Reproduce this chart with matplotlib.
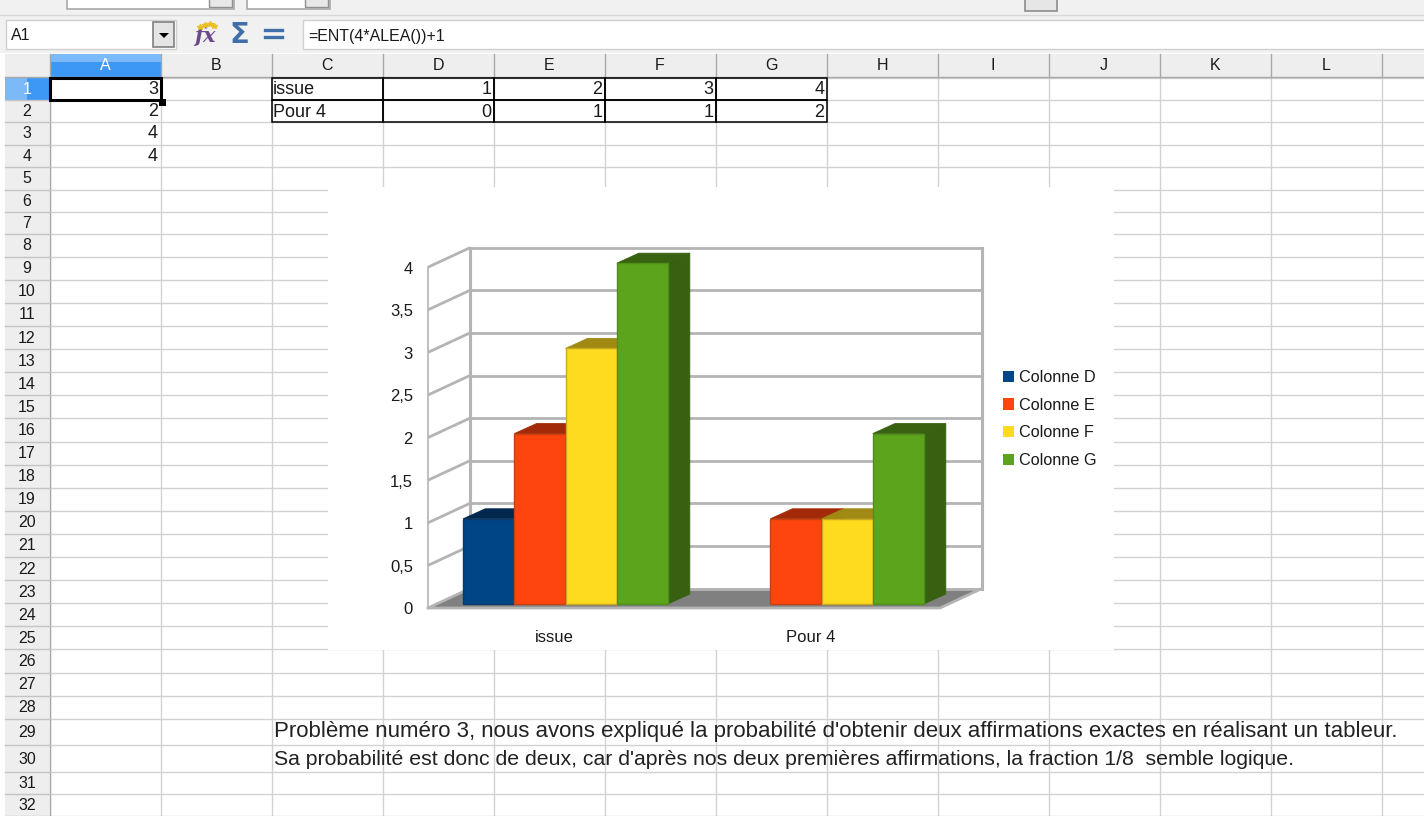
"""Spreadsheet screenshot with an embedded pseudo-3D column chart."""
import matplotlib
matplotlib.use('Agg')
import matplotlib.pyplot as plt
from matplotlib.patches import Polygon, Rectangle

plt.rcParams['font.family'] = ['Liberation Sans', 'DejaVu Sans']

# Table and chart data.
categories = ['issue', 'Pour 4']
series_names = ['Colonne D', 'Colonne E', 'Colonne F', 'Colonne G']
col_d = [1, 0]
col_e = [2, 1]
col_f = [3, 1]
col_g = [4, 2]
column_a = [3, 2, 4, 4]
y_ticks = [0, 0.5, 1, 1.5, 2, 2.5, 3, 3.5, 4]
y_labels = ['0', '0,5', '1', '1,5', '2', '2,5', '3', '3,5', '4']

col_letters = list('ABCDEFGHIJKL')
formula = '=ENT(4*ALEA())+1'
note_1 = "Problème numéro 3, nous avons expliqué la probabilité d'obtenir deux affirmations exactes en réalisant un tableur."
note_2 = "Sa probabilité est donc de deux, car d'après nos deux premières affirmations, la fraction 1/8  semble logique."

front_colors = ['#004586', '#ff450e', '#ffdb1f', '#5ba41c']
edge_colors = ['#0b3a68', '#c8400f', '#c9a81e', '#4f9018']
top_colors = ['#00284f', '#a32a08', '#a08a14', '#386211']
side_colors = ['#002c56', '#a32a08', '#a08a14', '#376110']

W, H = 1424, 816
GRID = '#d2d2d2'
HEAD = '#eeeeee'
WALL = '#b4b4b4'
TXT = '#1a1a1a'

fig = plt.figure(figsize=(W / 100, H / 100), dpi=100)
fig.patch.set_facecolor('white')

# Pixel-space axes for the spreadsheet window.
bg = fig.add_axes([0, 0, 1, 1])
bg.set_xlim(0, W)
bg.set_ylim(H, 0)
bg.axis('off')


def rect(x0, y0, x1, y1, fc='none', ec='none', lw=1.0, z=1):
    bg.add_patch(Rectangle((x0, y0), x1 - x0, y1 - y0, fc=fc, ec=ec, lw=lw, zorder=z))


# Toolbar strip and formula bar.
rect(0, 0, W, 53, fc='#f1f1f1')
rect(67, -4, 234, 9, fc='white', ec='#a8a8a8', lw=1.2, z=2)
rect(209, -4, 232, 7, fc='#e8e8e8', ec='#909090', z=3)
rect(247, -4, 330, 9, fc='white', ec='#a8a8a8', lw=1.2, z=2)
rect(305, -4, 328, 7, fc='#e8e8e8', ec='#909090', z=3)
rect(1025, -4, 1057, 11, fc='#e6e6e6', ec='#8c8c8c', lw=1.2, z=2)
bg.plot([0, W], [15, 15], color='#d8d8d8', lw=1, zorder=2)
rect(6, 20, 176, 49, fc='white', ec='#d0d0d0', z=2)
rect(153, 22, 174, 47, fc='#e4e4e4', ec='#808080', lw=1.2, z=3)
bg.add_patch(Polygon([(159, 33), (169, 33), (164, 38)], fc='black', zorder=4))
bg.text(11, 35, 'A1', fontsize=11.5, color=TXT, va='center', zorder=4)
bg.text(205, 36, 'fx', fontsize=15, family='DejaVu Serif', style='italic', weight='bold',
        color='#6b4a8c', ha='center', va='center', zorder=4)
bg.plot([200, 205, 210, 214], [27, 25, 24, 26], ls='none', marker='*', ms=4, color='#e8c020', zorder=5)
bg.text(239, 35, 'Σ', fontsize=21, family='DejaVu Sans', weight='bold', color='#3f6fa8',
        ha='center', va='center', zorder=4)
bg.plot([265, 282], [30, 30], color='#3f6fa8', lw=2.4, zorder=4)
bg.plot([265, 282], [37, 37], color='#3f6fa8', lw=2.4, zorder=4)
rect(303, 20, W + 4, 49, fc='white', ec='#d0d0d0', z=2)
bg.text(308, 36, formula, fontsize=11.5, color=TXT, va='center', zorder=4)

# Grid geometry of the sheet.
col_x = [49.5 + 111 * i for i in range(14)]
row_h = [22.4] * 8 + [23.1] * 20 + [26.5, 27, 22, 22]
row_y = [77.5]
for h in row_h:
    row_y.append(row_y[-1] + h)

for x in col_x:
    bg.plot([x, x], [77, H], color=GRID, lw=1, zorder=1)
for y in row_y:
    bg.plot([49, W], [y, y], color=GRID, lw=1, zorder=1)

# Column and row headers.
rect(5, 54, W, 77, fc=HEAD, z=2)
rect(5, 77, 49, H, fc=HEAD, z=2)
rect(49.5, 54, 160.5, 77, fc='#3d97f5', z=3)
rect(49.5, 54, 160.5, 62, fc='#7cb9f8', z=3)
rect(5, 77.5, 49.5, row_y[1], fc='#3d97f5', z=3)
rect(5, 77.5, 27, row_y[1], fc='#7cb9f8', z=3)
bg.plot([5, W], [77, 77], color='#a8a8a8', lw=1, zorder=4)
bg.plot([49.5, 49.5], [54, H], color='#a8a8a8', lw=1, zorder=4)
for i, letter in enumerate(col_letters):
    bg.text(col_x[i] + 55.5, 66, letter, fontsize=11.5, ha='center', va='center',
            color='white' if i == 0 else TXT, zorder=5)
    bg.plot([col_x[i + 1]] * 2, [54, 77], color='#a8a8a8', lw=1, zorder=4)
for i in range(32):
    y0, y1 = row_y[i], row_y[i + 1]
    bg.text(27, (y0 + y1) / 2 + 0.5, str(i + 1), fontsize=11.5, ha='center', va='center',
            color='white' if i == 0 else TXT, zorder=5)
    bg.plot([5, 49.5], [y1, y1], color='#c4c4c4', lw=1, zorder=4)

# Column A values and cursor.
for i, val in enumerate(column_a):
    bg.text(158, (row_y[i] + row_y[i + 1]) / 2 + 0.5, str(val), fontsize=13, ha='right',
            va='center', color=TXT, zorder=5)
rect(50, 78, 160.5, 100, ec='black', lw=2.2, z=6)
rect(158.5, 98.5, 165.5, 105.5, fc='black', z=7)

# Table C1:G2.
table_rows = [col_d, col_e, col_f, col_g]
for r, name in enumerate(categories):
    y0, y1 = row_y[r], row_y[r + 1]
    bg.text(273, (y0 + y1) / 2 + 1, name, fontsize=13, va='center', color=TXT, zorder=5)
    rect(col_x[2], y0, col_x[3], y1, ec='black', lw=1.1, z=5)
    for c, values in enumerate(table_rows):
        rect(col_x[3 + c], y0, col_x[4 + c], y1, ec='black', lw=1.1, z=5)
        bg.text(col_x[4 + c] - 2, (y0 + y1) / 2 + 1, str(values[r]), fontsize=13, ha='right',
                va='center', color=TXT, zorder=5)

# Text under the chart.
bg.text(274, 731, note_1, fontsize=16.0, va='center', color='#222222', zorder=5)
bg.text(274, 759.5, note_2, fontsize=15.35, va='center', color='#222222', zorder=5)

# White chart area covering the grid.
rect(328, 187, 1114, 650, fc='white', z=8)

# Chart axes, placed so that one category = 256 px and one unit = 85.2 px.
PX_X = 256.0
PX_Y = 85.2
left, right, top, bottom = 328, 1114, 187, 650
ax = fig.add_axes([left / W, 1 - bottom / H, (right - left) / W, (bottom - top) / H], zorder=5)
ax.patch.set_alpha(0)
ax.axis('off')
CENTER, BASE = 565.5, 604.0
ax.set_xlim((left - CENTER) / PX_X, (right - CENTER) / PX_X)
ax.set_ylim((BASE - bottom) / PX_Y, (BASE - top) / PX_Y)

# Offsets of the depth planes relative to the bar fronts.
front_dx, front_dy = -9.5 / PX_X, -4.0 / PX_Y
back_dx, back_dy = 32.5 / PX_X, 15.5 / PX_Y
bar_dx, bar_dy = 22 / PX_X, 10 / PX_Y

x_start, x_end = -0.5, 1.5
x_front = x_start + front_dx
x_back = x_start + back_dx

# Floor.
ax.add_patch(Polygon([(x_front, front_dy), (x_end + front_dx, front_dy),
                      (x_end + back_dx, back_dy), (x_back, back_dy)],
                     fc='#808080', ec='none', zorder=1))

# Walls and grid lines.
for val in y_ticks:
    ax.plot([x_front, x_back], [val + front_dy, val + back_dy], color=WALL, lw=2, zorder=2,
            solid_capstyle='butt')
    ax.plot([x_back, x_end + back_dx], [val + back_dy, val + back_dy], color=WALL, lw=2, zorder=2)
ax.plot([x_front, x_front], [front_dy, 4 + front_dy], color=WALL, lw=1.2, zorder=2)
ax.plot([x_back, x_back], [back_dy, 4 + back_dy], color=WALL, lw=2.2, zorder=2)
ax.plot([x_end + back_dx] * 2, [back_dy, 4 + back_dy], color=WALL, lw=2.2, zorder=2)
ax.plot([x_front, x_end + front_dx, x_end + back_dx], [front_dy, front_dy, back_dy],
        color=WALL, lw=2, zorder=2)

for val, label in zip(y_ticks, y_labels):
    ax.text(x_front - 15 / PX_X, val + front_dy - 2 / PX_Y, label, fontsize=12, ha='right',
            va='center', color=TXT)
for i, name in enumerate(categories):
    ax.text(i - 11 / PX_X, -33 / PX_Y, name, fontsize=12, ha='center', va='center', color=TXT)

# Columns.
bar_w = 51.0 / PX_X
handles = []
for s, values in enumerate(table_rows):
    offset = (s - 1.5) * 0.2
    for i, val in enumerate(values):
        if val == 0:
            continue
        xl = i + offset - bar_w / 2
        xr = xl + bar_w
        z = 3 + s * 3
        ax.add_patch(Polygon([(xr, 0), (xr + bar_dx, bar_dy), (xr + bar_dx, val + bar_dy), (xr, val)],
                             fc=side_colors[s], ec=side_colors[s], lw=0.6, zorder=z))
        ax.add_patch(Polygon([(xl, val), (xl + bar_dx, val + bar_dy), (xr + bar_dx, val + bar_dy), (xr, val)],
                             fc=top_colors[s], ec=top_colors[s], lw=0.6, zorder=z + 1))
        ax.bar(i + offset, val, width=bar_w, color=front_colors[s], edgecolor=edge_colors[s],
               linewidth=1.0, zorder=z + 2)
    handles.append(Rectangle((0, 0), 1, 1, fc=front_colors[s], ec='none'))

# Legend, placed in figure pixels.
leg = ax.legend(handles, series_names, loc='upper left', bbox_transform=fig.transFigure,
                bbox_to_anchor=(1003 / W, 1 - 370 / H), frameon=False, fontsize=11.7,
                handlelength=0.68, handleheight=0.68, handletextpad=0.3, labelspacing=0.78,
                borderpad=0, borderaxespad=0)
for t in leg.get_texts():
    t.set_color(TXT)

fig.savefig('out.png', dpi=100)
